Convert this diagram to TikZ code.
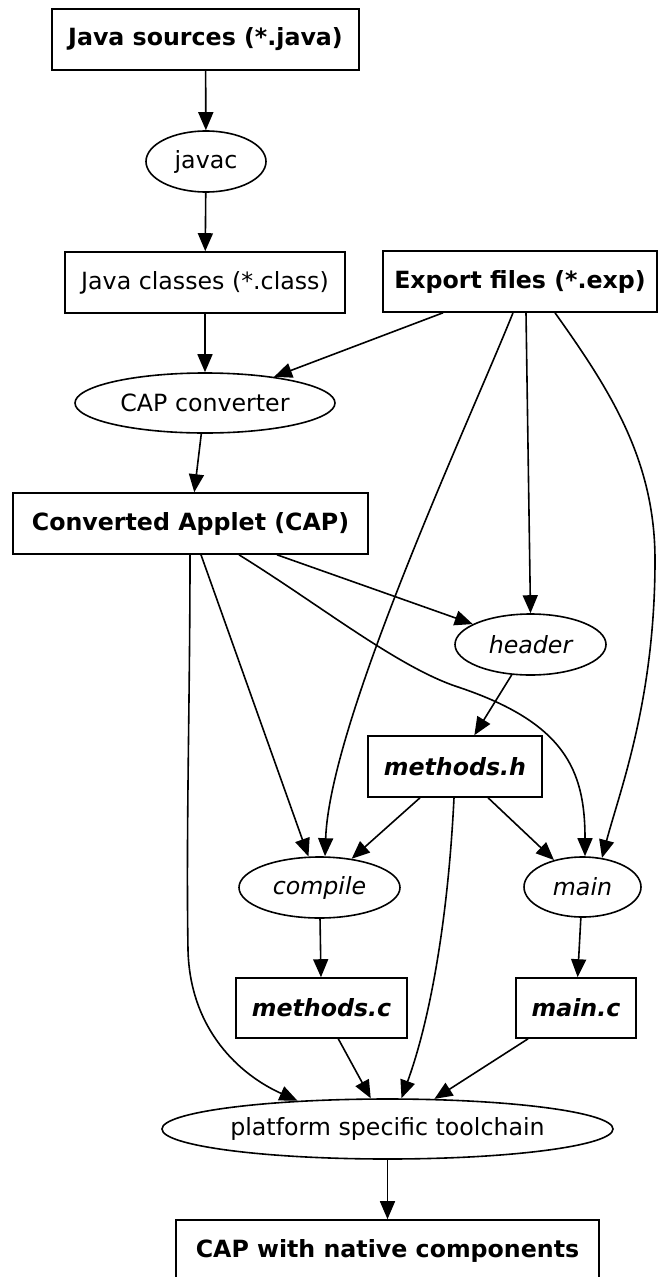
\documentclass[tikz,border=0pt]{standalone}
\usepackage{fontspec}
\setmainfont{DejaVu Sans}
\usetikzlibrary{shapes.geometric,arrows.meta,calc}

\tikzset{
  base/.style={draw, line width=1.6pt, inner sep=0pt, align=center,
    font=\fontsize{23.7}{28}\selectfont},
  filebox/.style={base, rectangle},
  toolell/.style={base, ellipse},
  arr/.style={line width=1.6pt, -{Triangle[length=18pt,width=15pt]}},
}

\begin{document}
\begin{tikzpicture}[x=1pt,y=-1pt]
  \useasboundingbox (0,0) rectangle (659,1277);

  % build inputs
  \node[filebox, minimum width=307, minimum height=61, font=\fontsize{23.7}{28}\selectfont\bfseries]
    (js) at (205.5,39.5) {Java sources (*.java)};
  \node[toolell, minimum width=120, minimum height=61] (javac) at (206,161.5) {javac};
  \node[filebox, minimum width=280, minimum height=61] (jc) at (205,282.5) {Java classes (*.class)};
  \node[filebox, minimum width=274, minimum height=61, font=\fontsize{23.7}{28}\selectfont\bfseries]
    (exp) at (520,281.5) {Export files (*.exp)};
  \node[toolell, minimum width=260, minimum height=60] (conv) at (205,403) {CAP converter};
  \node[filebox, minimum width=355, minimum height=61, font=\fontsize{23.7}{28}\selectfont\bfseries]
    (cap) at (190.5,523.5) {Converted Applet (CAP)};

  % native code generation
  \node[toolell, minimum width=151, minimum height=61, font=\fontsize{23.7}{28}\selectfont\itshape]
    (header) at (530.5,644.5) {header};
  \node[filebox, minimum width=174, minimum height=61, font=\fontsize{23.7}{28}\selectfont\bfseries\itshape]
    (mh) at (455,766.5) {methods.h};
  \node[toolell, minimum width=161, minimum height=61, font=\fontsize{23.7}{28}\selectfont\itshape]
    (compile) at (319.5,887.5) {compile};
  \node[toolell, minimum width=117, minimum height=60, font=\fontsize{23.7}{28}\selectfont\itshape]
    (main) at (582.5,887) {main};
  \node[filebox, minimum width=171, minimum height=60, font=\fontsize{23.7}{28}\selectfont\bfseries\itshape]
    (mc) at (321.5,1008) {methods.c};
  \node[filebox, minimum width=120, minimum height=60, font=\fontsize{23.7}{28}\selectfont\bfseries\itshape]
    (mainc) at (576,1008) {main.c};
  \node[toolell, minimum width=451, minimum height=60] (tool) at (387.5,1129) {platform specific toolchain};
  \node[filebox, minimum width=423, minimum height=61, font=\fontsize{23.7}{28}\selectfont\bfseries]
    (nat) at (387.5,1250.5) {CAP with native components};

  % connectors
  \draw[arr] (js) -- (javac);
  \draw[arr] (javac) -- (jc);
  \draw[arr] (jc) -- (conv);
  \draw[arr] ($(exp.south)+(-77,0)$) -- (conv);
  \draw[arr] (conv) -- (cap);
  \draw[arr] ($(exp.south)+(-7,0)$) .. controls (470,420) and (330,720) .. ($(compile.north)+(5.5,0)$);
  \draw[arr] ($(exp.south)+(6,0)$) -- (header.north);
  \draw[arr] ($(exp.south)+(35,0)$) .. controls (610,390) and (655,460) .. (655,560)
                                   .. controls (655,700) and (620,790) .. ($(main.north)+(19.5,1.7)$);
  \draw[arr] ($(cap.south)+(86.5,0)$) -- (header);
  \draw[arr] ($(cap.south)+(48.5,0)$) .. controls (320,605) and (395,665) .. (455,686)
                                      .. controls (565,722) and (585,770) .. ($(main.north)+(2.5,0)$);
  \draw[arr] ($(cap.south)+(10.5,0)$) -- (compile);
  \draw[arr] ($(cap.south)+(-0.5,0)$) .. controls (190,700) and (186,830) .. (188,950)
                                      .. controls (190,1030) and (240,1075) .. ($(tool.north)+(-90,2.5)$);
  \draw[arr] (header) -- (mh);
  \draw[arr] (mh) -- (compile);
  \draw[arr] (mh) -- (main);
  \draw[arr] ($(mh.south)+(-1,0)$) .. controls (448,920) and (430,1020) .. ($(tool.north)+(14,0)$);
  \draw[arr] (compile) -- (mc);
  \draw[arr] (main) -- (mainc);
  \draw[arr] (mc) -- (tool);
  \draw[arr] (mainc) -- (tool);
  \draw[arr] (tool) -- (nat);
\end{tikzpicture}
\end{document}
